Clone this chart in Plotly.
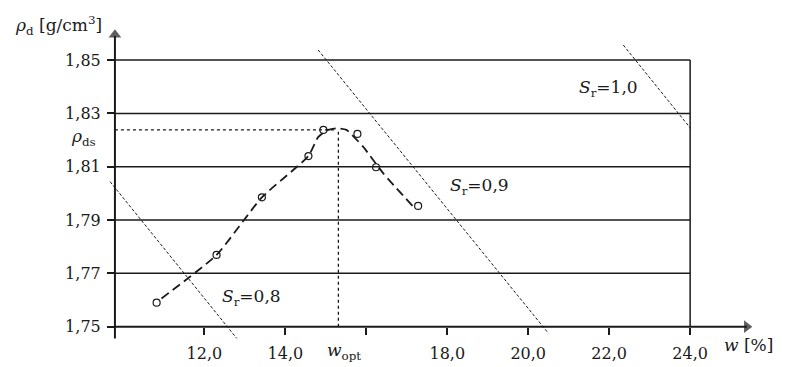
import plotly.graph_objects as go

# measured points (w [%], rho_d [g/cm3])
w_pts = [10.82, 12.30, 13.42, 14.57, 14.94, 15.78, 16.24, 17.28]
rho_pts = [1.7590, 1.7769, 1.7985, 1.8140, 1.8238, 1.8223, 1.8098, 1.7953]

# hand-drawn compaction curve
w_curve = [10.94, 12.30, 13.42, 14.57, 14.81, 15.02, 15.27, 15.51, 15.92, 16.42, 17.16]
rho_curve = [1.7606, 1.7769, 1.7985, 1.8140, 1.8211, 1.8236, 1.8244, 1.8238, 1.8175, 1.8075, 1.7950]

# saturation lines
sr08_w = [9.67, 12.80]; sr08_rho = [1.8044, 1.7456]
sr09_w = [14.81, 20.50]; sr09_rho = [1.8538, 1.7475]
sr10_w = [22.35, 24.01]; sr10_rho = [1.8556, 1.8244]

w_opt = 15.31
rho_ds = 1.8238

x_ticks = [12, 14, 18, 20, 22, 24]
x_labels = ["12,0", "14,0", "18,0", "20,0", "22,0", "24,0"]
x_minor = [16]
y_ticks = [1.75, 1.77, 1.79, 1.81, 1.83, 1.85]
y_labels = ["1,75", "1,77", "1,79", "1,81", "1,83", "1,85"]

x_axis0 = 9.79
x_right = 24.0
x_min, x_max = 9.495, 25.80
y_min, y_max = 1.7405, 1.8669

INK = "#1a1a1a"
FONT = "DejaVu Serif"

fig = go.Figure()

# grid lines
gx, gy = [], []
for v in y_ticks[1:]:
    gx += [x_axis0, x_right, None]
    gy += [v, v, None]
gx += [x_right, x_right]
gy += [y_ticks[0], y_ticks[-1]]
fig.add_trace(go.Scatter(x=gx, y=gy, mode="lines", line=dict(color=INK, width=1.5),
                         hoverinfo="skip", showlegend=False))

# saturation lines
for xs, ys in [(sr08_w, sr08_rho), (sr09_w, sr09_rho), (sr10_w, sr10_rho)]:
    fig.add_trace(go.Scatter(x=xs, y=ys, mode="lines",
                             line=dict(color=INK, width=1, dash="3px,2px"),
                             hoverinfo="skip", showlegend=False))

# optimum guides
fig.add_trace(go.Scatter(x=[x_axis0, 15.27], y=[rho_ds, rho_ds], mode="lines",
                         line=dict(color=INK, width=1.3, dash="dot"), showlegend=False))
fig.add_trace(go.Scatter(x=[w_opt, w_opt], y=[y_ticks[0], rho_ds], mode="lines",
                         line=dict(color=INK, width=1.3, dash="dot"), showlegend=False))

# curve
fig.add_trace(go.Scatter(x=w_curve, y=rho_curve, mode="lines",
                         line=dict(color=INK, width=1.8, dash="9px,5px", shape="spline", smoothing=0.5),
                         showlegend=False))
# points
fig.add_trace(go.Scatter(x=w_pts, y=rho_pts, mode="markers",
                         marker=dict(symbol="circle-open", size=7, color=INK, line=dict(width=1.2, color=INK)),
                         showlegend=False))

# axis lines with arrow tips
fig.add_trace(go.Scatter(x=[x_axis0, x_axis0], y=[1.7456, 1.8590], mode="lines",
                         line=dict(color=INK, width=2), hoverinfo="skip", showlegend=False))
fig.add_trace(go.Scatter(x=[x_axis0, 25.40], y=[1.75, 1.75], mode="lines",
                         line=dict(color=INK, width=2), hoverinfo="skip", showlegend=False))
fig.add_trace(go.Scatter(x=[x_axis0], y=[1.8595], mode="markers",
                         marker=dict(symbol="triangle-up", size=[11], color=INK, line=dict(width=0)),
                         hoverinfo="skip", showlegend=False))
fig.add_trace(go.Scatter(x=[25.40], y=[1.75], mode="markers",
                         marker=dict(symbol="triangle-right", size=[11], color=INK, line=dict(width=0)),
                         hoverinfo="skip", showlegend=False))

# pixel helpers for labels outside the axis ranges (paper coordinates)
L, R, T, B, W, H = 103, 37, 15, 15, 800, 367
def px(xp):
    return (xp - L) / (W - L - R)
def py(yp):
    return (H - B - yp) / (H - T - B)

ann = []
tf = dict(family=FONT, size=17, color=INK)
ann.append(dict(x=px(13), y=py(25), xref="paper", yref="paper", text="<i>ρ</i><sub>d</sub> [g/cm<sup>3</sup>]",
                showarrow=False, xanchor="left", yanchor="middle", font=tf))
ann.append(dict(x=px(98), y=py(137), xref="paper", yref="paper", text="<i>ρ</i><sub>ds</sub>",
                showarrow=False, xanchor="right", yanchor="middle", font=tf))
ann.append(dict(x=15.45, y=1.7408, xref="x", yref="y", text="<i>w</i><sub>opt</sub>",
                showarrow=False, xanchor="center", yanchor="middle", font=tf))
ann.append(dict(x=25.43, y=1.7431, xref="x", yref="y", text="<i>w</i> [%]",
                showarrow=False, xanchor="center", yanchor="middle", font=tf))
ann.append(dict(x=21.98, y=1.8395, xref="x", yref="y", text="<i>S</i><sub>r</sub>=1,0",
                showarrow=False, xanchor="center", yanchor="middle", font=tf))
ann.append(dict(x=18.80, y=1.8024, xref="x", yref="y", text="<i>S</i><sub>r</sub>=0,9",
                showarrow=False, xanchor="center", yanchor="middle", font=tf))
ann.append(dict(x=13.17, y=1.7608, xref="x", yref="y", text="<i>S</i><sub>r</sub>=0,8",
                showarrow=False, xanchor="center", yanchor="middle", font=tf))

fig.update_layout(
    width=W, height=H, autosize=False,
    margin=dict(l=L, r=R, t=T, b=B),
    paper_bgcolor="white", plot_bgcolor="white",
    font=dict(family=FONT, color=INK),
    annotations=ann,
    xaxis=dict(range=[x_min, x_max], showgrid=False, zeroline=False, showline=False,
               anchor="free", position=(1.75 - y_min) / (y_max - y_min),
               tickmode="array", tickvals=x_ticks, ticktext=x_labels,
               ticks="outside", ticklen=7, tickwidth=1.5, tickcolor=INK,
               minor=dict(tickvals=x_minor, ticks="outside", ticklen=7, tickwidth=1.5, tickcolor=INK, showgrid=False),
               tickfont=dict(family=FONT, size=16, color=INK), ticklabelstandoff=5, automargin=False),
    yaxis=dict(range=[y_min, y_max], showgrid=False, zeroline=False, showline=False,
               anchor="free", position=(x_axis0 - x_min) / (x_max - x_min),
               tickmode="array", tickvals=y_ticks, ticktext=y_labels,
               ticks="outside", ticklen=8, tickwidth=1.5, tickcolor=INK,
               tickfont=dict(family=FONT, size=16, color=INK), ticklabelstandoff=3, automargin=False),
)

fig.write_html("out.html")
